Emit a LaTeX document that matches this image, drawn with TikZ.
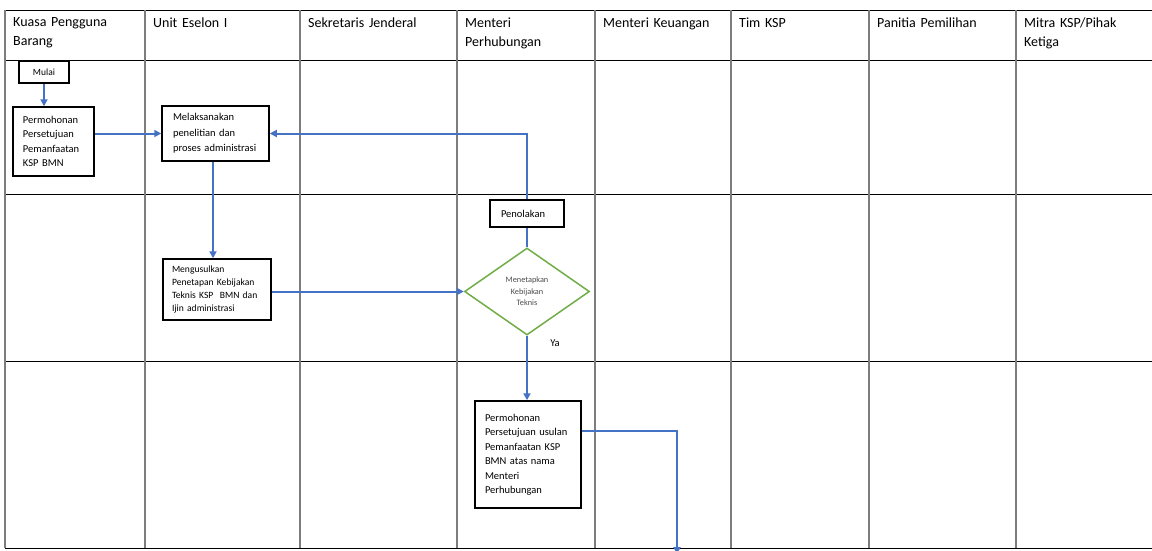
\documentclass[tikz,border=0pt]{standalone}
\usepackage{fontspec}
\setmainfont{Carlito}
\usetikzlibrary{arrows.meta, shapes.geometric, calc}
\definecolor{alurbiru}{RGB}{68,114,196}
\definecolor{hijaukep}{RGB}{112,173,71}
\definecolor{garislajur}{RGB}{125,125,125}

\begin{document}
\begin{tikzpicture}[x=1pt, y=-1pt, >={Triangle[length=7pt,width=7pt]},
	kotak/.style={draw, line width=1.5pt, inner xsep=10pt, inner ysep=0pt, align=left,
		font=\fontsize{10.5}{14.5}\selectfont},
	keputusan/.style={diamond, draw=hijaukep, line width=1.5pt, inner sep=0pt,
		minimum width=125pt, minimum height=87pt, align=center, text=black!70,
		font=\fontsize{8.3}{11.5}\selectfont},
	alur/.style={draw=alurbiru, line width=2pt, ->},
	judul/.style={anchor=north west, inner sep=0pt, align=left, text width=125pt,
		font=\fontsize{14}{19}\selectfont}]

\useasboundingbox (0,0) rectangle (1152,550);

% ==== swimlane table ====
\foreach \y in {10,60,194,361,548}
	\draw[line width=0.9pt] (5,\y) -- (1152,\y);
\foreach \x in {5,145,300,457,595,731,869,1016}
	\draw[garislajur, line width=1.4pt] (\x,10) -- (\x,548);

\foreach \x/\teks [count=\i] in {5/{Kuasa Pengguna\\Barang}, 145/{Unit Eselon I},
	300/{Sekretaris Jenderal}, 457/{Menteri\\Perhubungan}, 595/{Menteri Keuangan},
	731/{Tim KSP}, 869/{Panitia Pemilihan}, 1016/{Mitra KSP/Pihak\\Ketiga}}
	\node[judul] (lajur\i) at (\x+8,17.5) {\teks};

% ==== steps ====
\node[kotak, align=center, minimum width=50pt, minimum height=22pt, font=\fontsize{9.5}{12}\selectfont]
	(mulai) at (44,72) {Mulai};
\node[kotak, text width=61pt, minimum height=69pt] (mohon) at (53.5,141.5)
	{Permohonan\\Persetujuan\\Pemanfaatan\\KSP BMN};
\node[kotak, inner xsep=11pt, text width=85pt, minimum height=55pt,
	font=\fontsize{10.5}{15.5}\selectfont] (teliti) at (215.5,133.5)
	{Melaksanakan\\penelitian dan\\proses administrasi};
\node[kotak, inner xsep=9pt, text width=90pt, minimum height=61pt,
	font=\fontsize{9.6}{13}\selectfont] (usul) at (217,289.5)
	{Mengusulkan\\Penetapan Kebijakan\\Teknis KSP\ \ BMN dan\\Ijin administrasi};
\node[kotak, inner xsep=11pt, text width=52pt, minimum height=27pt] (tolak) at (527,213.5)
	{Penolakan};
\node[keputusan] (tetap) at (527,291.5) {Menetapkan\\Kebijakan\\Teknis};
\node[kotak, text width=86pt, minimum height=107pt] (mohonmen) at (528,454.5)
	{Permohonan\\Persetujuan usulan\\Pemanfaatan KSP\\BMN atas nama\\Menteri\\Perhubungan};
\node[font=\fontsize{10.5}{12}\selectfont] (ya) at (555,343) {Ya};
\coordinate (keluar) at (677,554);

% ==== flow ====
\draw[alur] (mulai.south) -- (mulai.south |- mohon.north);
\draw[alur] (mohon.east |- teliti.west) -- (teliti.west);
\draw[alur] ([xshift=-2.5pt]teliti.south) -- ([xshift=-2.5pt]teliti.south |- usul.north);
\draw[alur] (usul.east |- tetap.west) -- (tetap.west);
\draw[alurbiru, line width=2pt] (tetap.north) -- (tetap.north |- tolak.south);
\draw[alur] (tolak.north) |- (teliti.east);
\draw[alur] (tetap.south) -- (tetap.south |- mohonmen.north);
\draw[alur] ([yshift=-31pt]mohonmen.north east) -| (keluar);

\end{tikzpicture}
\end{document}
